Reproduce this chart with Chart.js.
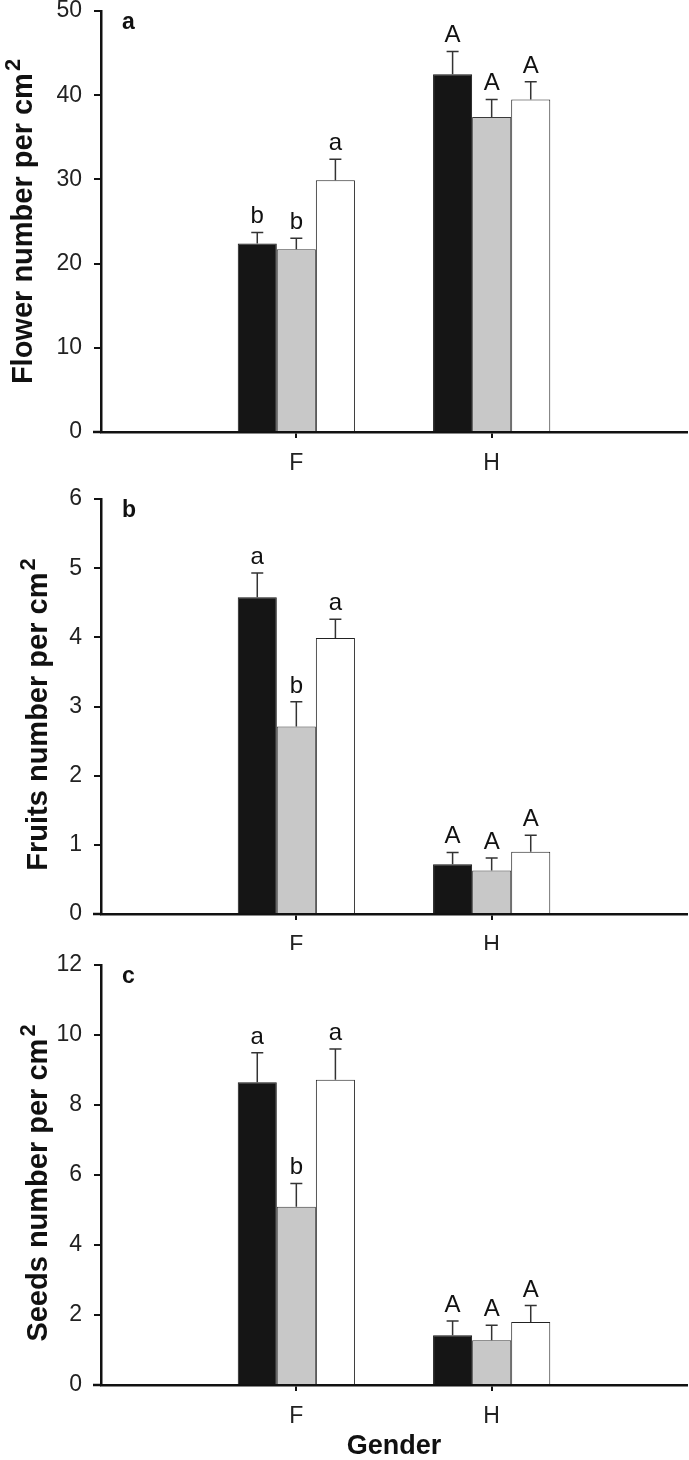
<!DOCTYPE html>
<html>
<head>
<meta charset="utf-8">
<script src="https://cdn.jsdelivr.net/npm/chart.js@4.4.1/dist/chart.umd.min.js"></script>
<style>
  html, body { margin: 0; padding: 0; background: #fff; }
  #wrap { position: relative; width: 689px; height: 1460px; }
  canvas { position: absolute; left: 0; }
</style>
</head>
<body>
<div id="wrap">
  <canvas id="chartA" width="689" height="480" style="top:0px"></canvas>
  <canvas id="chartB" width="689" height="470" style="top:480px"></canvas>
  <canvas id="chartC" width="689" height="510" style="top:950px"></canvas>
</div>
<script>
// categories
const genders = ["F", "H"];

// panel a - flowers
const flowerBlack = [22.4, 42.5];
const flowerGrey = [21.7, 37.4];
const flowerWhite = [29.9, 39.5];
const flowerBlackErr = [1.3, 2.7];
const flowerGreyErr = [1.3, 2.1];
const flowerWhiteErr = [2.5, 2.1];
const flowerLetters = [["b", "A"], ["b", "A"], ["a", "A"]];
const flowerTicks = { max: 50, step: 10 };

// panel b - fruits
const fruitBlack = [4.58, 0.72];
const fruitGrey = [2.71, 0.63];
const fruitWhite = [3.99, 0.9];
const fruitBlackErr = [0.35, 0.17];
const fruitGreyErr = [0.36, 0.18];
const fruitWhiteErr = [0.27, 0.24];
const fruitLetters = [["a", "A"], ["b", "A"], ["a", "A"]];
const fruitTicks = { max: 6, step: 1 };

// panel c - seeds
const seedBlack = [8.65, 1.42];
const seedGrey = [5.09, 1.28];
const seedWhite = [8.72, 1.8];
const seedBlackErr = [0.84, 0.41];
const seedGreyErr = [0.67, 0.43];
const seedWhiteErr = [0.88, 0.47];
const seedLetters = [["a", "A"], ["b", "A"], ["a", "A"]];
const seedTicks = { max: 12, step: 2 };

const FONT = '"Liberation Sans", Arial, Helvetica, sans-serif';
const barFills = ["#151515", "#c8c8c8", "#ffffff"];
const barBorders = ["#151515", "#3a3a3a", "#222222"];

// pad the category axis so F and H sit at 1/3 and 2/3 of the axis
const padded = (arr) => [null, ...arr, null];

// error bars (upper only) + significance letters
const errorBarPlugin = {
  id: "errorBars",
  afterDatasetsDraw(chart) {
    const ctx = chart.ctx;
    const yScale = chart.scales.y;
    chart.data.datasets.forEach((ds, di) => {
      const meta = chart.getDatasetMeta(di);
      meta.data.forEach((bar, i) => {
        const v = ds.data[i];
        if (v === null || v === undefined) return;
        const err = ds.errors[i];
        const yTop = yScale.getPixelForValue(v + err);
        ctx.save();
        ctx.strokeStyle = "#333";
        ctx.lineWidth = 1.5;
        ctx.beginPath();
        ctx.moveTo(bar.x, bar.y);
        ctx.lineTo(bar.x, yTop);
        ctx.moveTo(bar.x - 6, yTop);
        ctx.lineTo(bar.x + 6, yTop);
        ctx.stroke();
        ctx.fillStyle = "#111";
        ctx.font = "24px " + FONT;
        ctx.textAlign = "center";
        ctx.textBaseline = "alphabetic";
        ctx.fillText(ds.letters[i], bar.x, yTop - 9);
        ctx.restore();
      });
    });
  },
};

// rotated y title with a real superscript, plus the panel letter
const panelTextPlugin = {
  id: "panelText",
  afterDraw(chart, args, opts) {
    const ctx = chart.ctx;
    const area = chart.chartArea;
    ctx.save();
    // x axis line runs a little past the y axis, like the original
    ctx.strokeStyle = "#111";
    ctx.lineWidth = 2.5;
    ctx.beginPath();
    ctx.moveTo(area.left - 8, area.bottom);
    ctx.lineTo(area.left, area.bottom);
    ctx.stroke();

    ctx.fillStyle = "#111";
    ctx.font = "bold 23px " + FONT;
    ctx.textAlign = "left";
    ctx.textBaseline = "alphabetic";
    ctx.fillText(opts.panel, area.left + 21, area.top + 18);

    const mainFont = "bold 29px " + FONT;
    const supFont = "bold 22px " + FONT;
    ctx.font = mainFont;
    const wMain = ctx.measureText(opts.title).width;
    ctx.font = supFont;
    const wSup = ctx.measureText("2").width;
    const total = wMain + wSup + 2;
    const cy = (area.top + area.bottom) / 2 + opts.titleShift;
    ctx.translate(opts.titleX, cy);
    ctx.rotate(-Math.PI / 2);
    ctx.font = mainFont;
    ctx.fillText(opts.title, -total / 2, 0);
    ctx.font = supFont;
    ctx.fillText("2", -total / 2 + wMain + 2, -12);
    ctx.restore();
  },
};

// keep the tick padding from pushing the plot area inwards
const noScalePadding = (scale) => {
  scale.paddingTop = 0;
  scale.paddingBottom = 0;
  scale.paddingLeft = 0;
  scale.paddingRight = 0;
};

const makePanel = (id, series, errs, letters, ticks, p) => {
  const ctx = document.getElementById(id).getContext("2d");
  const datasets = series.map((vals, k) => ({
    data: padded(vals),
    errors: padded(errs[k]),
    letters: padded(letters[k]),
    backgroundColor: barFills[k],
    borderColor: barBorders[k],
    borderWidth: 1,
    categoryPercentage: 0.6,
    barPercentage: 1.0,
  }));
  return new Chart(ctx, {
    type: "bar",
    data: { labels: ["", ...genders, ""], datasets: datasets },
    plugins: [errorBarPlugin, panelTextPlugin],
    options: {
      responsive: false,
      animation: false,
      layout: { padding: { top: p.top, right: 2, left: 0, bottom: 0 } },
      plugins: {
        legend: { display: false },
        tooltip: { enabled: false },
        panelText: { panel: p.panel, title: p.title, titleX: p.titleX, titleShift: p.titleShift },
      },
      scales: {
        x: {
          offset: false,
          border: { display: true, color: "#111", width: 2.5 },
          grid: {
            offset: false,
            drawOnChartArea: false,
            tickLength: 6,
            lineWidth: 2,
            tickColor: (c) => (c.tick && c.tick.label ? "#111" : "rgba(0,0,0,0)"),
          },
          ticks: {
            color: "#222",
            padding: 14,
            autoSkip: false,
            maxRotation: 0,
            font: { family: FONT, size: 23, lineHeight: 1 },
          },
          title: {
            display: !!p.xTitle,
            text: p.xTitle || "",
            color: "#111",
            padding: { top: 0, bottom: 0 },
            font: { family: FONT, size: 27, weight: "bold", lineHeight: 1 },
          },
          afterFit: (scale) => { scale.height = p.xHeight; noScalePadding(scale); },
        },
        y: {
          min: 0,
          max: ticks.max,
          border: { display: true, color: "#111", width: 2.5 },
          grid: { drawOnChartArea: false, tickLength: 7, lineWidth: 2, tickColor: "#111" },
          ticks: {
            stepSize: ticks.step,
            color: "#222",
            padding: 12,
            font: { family: FONT, size: 23, lineHeight: 1 },
          },
          afterFit: (scale) => { scale.width = 101; noScalePadding(scale); },
        },
      },
    },
  });
};

makePanel("chartA", [flowerBlack, flowerGrey, flowerWhite],
  [flowerBlackErr, flowerGreyErr, flowerWhiteErr], flowerLetters, flowerTicks,
  { panel: "a", title: "Flower number per cm", titleX: 32, titleShift: 0, top: 11, xHeight: 48 });

makePanel("chartB", [fruitBlack, fruitGrey, fruitWhite],
  [fruitBlackErr, fruitGreyErr, fruitWhiteErr], fruitLetters, fruitTicks,
  { panel: "b", title: "Fruits number per cm", titleX: 47, titleShift: 8, top: 19, xHeight: 36 });

makePanel("chartC", [seedBlack, seedGrey, seedWhite],
  [seedBlackErr, seedGreyErr, seedWhiteErr], seedLetters, seedTicks,
  { panel: "c", title: "Seeds number per cm", titleX: 47, titleShift: 8, top: 15, xHeight: 75, xTitle: "Gender" });
</script>
</body>
</html>
